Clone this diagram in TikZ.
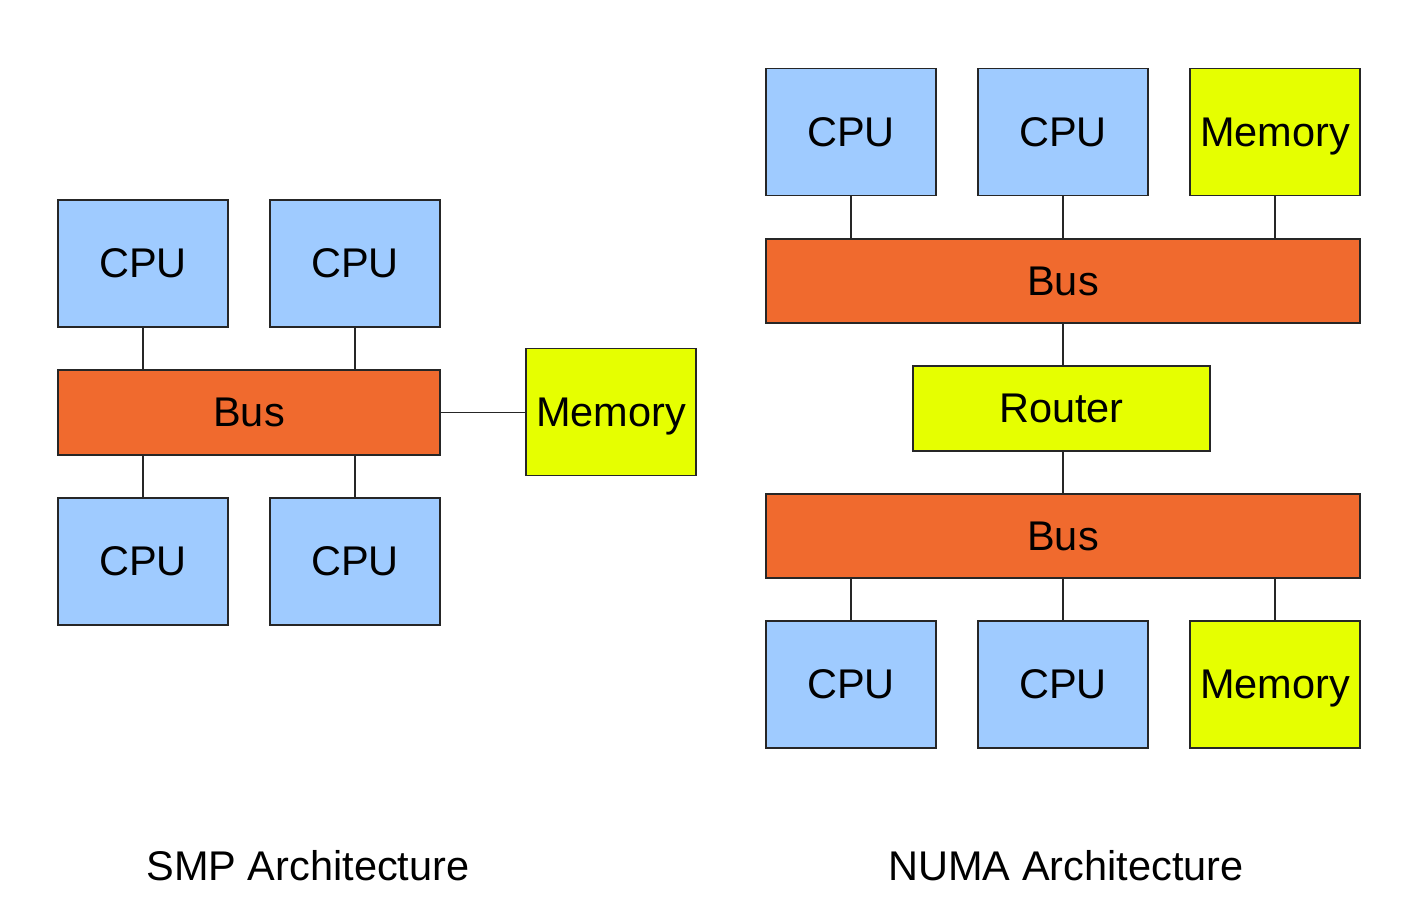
\documentclass[tikz,border=0pt]{standalone}
\usepackage{fontspec}
\setmainfont{Liberation Sans}
\definecolor{cpublue}{HTML}{9FCBFF}
\definecolor{busorange}{HTML}{F06A2E}
\definecolor{memyellow}{HTML}{E6FF00}
\begin{document}
\begin{tikzpicture}[x=0.01cm,y=-0.01cm,
  box/.style={draw=black!85,line width=0.45pt,inner sep=0pt,text height=0.82em,text depth=0pt,font=\fontsize{11.8}{14}\selectfont},
  cpu/.style={box,fill=cpublue,minimum width=1.7cm,minimum height=1.27cm},
  mem/.style={box,fill=memyellow,minimum width=1.7cm,minimum height=1.27cm},
  link/.style={draw=black!85,line width=0.45pt},
  captext/.style={font=\fontsize{11.8}{14}\selectfont}]
\useasboundingbox (0,0) rectangle (1406,908);
% SMP
\node[cpu] (s1) at (143,263.5) {CPU};
\node[cpu] (s2) at (355,263.5) {CPU};
\node[box,fill=busorange,minimum width=3.82cm,minimum height=0.85cm] (sbus) at (249,412.5) {Bus};
\node[mem] (smem) at (611,412) {Memory};
\node[cpu] (s3) at (143,561.5) {CPU};
\node[cpu] (s4) at (355,561.5) {CPU};
\draw[link] (s1.south) -- (s1.south |- sbus.north);
\draw[link] (s2.south) -- (s2.south |- sbus.north);
\draw[link] (s3.north) -- (s3.north |- sbus.south);
\draw[link] (s4.north) -- (s4.north |- sbus.south);
\draw[link] (sbus.east) -- (sbus.east -| smem.west);
\node[captext] (smpcap) at (308,866) {SMP Architecture};
% NUMA
\node[cpu] (n1) at (851,132) {CPU};
\node[cpu] (n2) at (1063,132) {CPU};
\node[mem] (nm1) at (1275,132) {Memory};
\node[box,fill=busorange,minimum width=5.94cm,minimum height=0.84cm] (nbus1) at (1063,281) {Bus};
\node[box,fill=memyellow,minimum width=2.97cm,minimum height=0.85cm] (router) at (1061.5,408.5) {Router};
\node[box,fill=busorange,minimum width=5.94cm,minimum height=0.84cm] (nbus2) at (1063,536) {Bus};
\node[cpu] (n3) at (851,684.5) {CPU};
\node[cpu] (n4) at (1063,684.5) {CPU};
\node[mem] (nm2) at (1275,684.5) {Memory};
\draw[link] (n1.south) -- (n1.south |- nbus1.north);
\draw[link] (n2.south) -- (n2.south |- nbus1.north);
\draw[link] (nm1.south) -- (nm1.south |- nbus1.north);
\draw[link] (nbus1.south) -- (nbus1.south |- router.north);
\draw[link] (nbus2.north) -- (nbus2.north |- router.south);
\draw[link] (n3.north) -- (n3.north |- nbus2.south);
\draw[link] (n4.north) -- (n4.north |- nbus2.south);
\draw[link] (nm2.north) -- (nm2.north |- nbus2.south);
\node[captext] (numacap) at (1066,866) {NUMA Architecture};
\end{tikzpicture}
\end{document}
